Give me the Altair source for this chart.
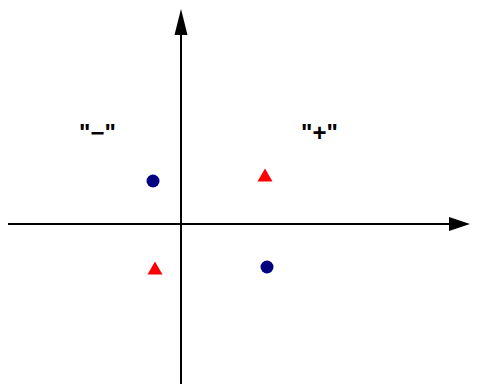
import altair as alt
import pandas as pd

# point data (axis origin at 0,0)
pt_x = [-0.28, 0.84, -0.26, 0.86]
pt_y = [0.43, 0.49, -0.44, -0.43]
pt_kind = ["circle", "triangle", "triangle", "circle"]

# quadrant labels
lab_text = ['"−"', '"+"']
lab_x = [-0.835, 1.385]
lab_y = [0.83, 0.83]

# axis extents
x_min, x_max = -1.73, 2.89
y_min, y_max = -1.60, 2.16
h_line_end = 2.69
v_line_end = 1.89
h_arrow_pos = 2.785
v_arrow_pos = 2.02

xs = alt.Scale(domain=[x_min, x_max], nice=False, zero=False)
ys = alt.Scale(domain=[y_min, y_max], nice=False, zero=False)

pts = pd.DataFrame({"x": pt_x, "y": pt_y, "kind": pt_kind})
labs = pd.DataFrame({"x": lab_x, "y": lab_y, "t": lab_text})

hline = alt.Chart(pd.DataFrame({"x": [x_min], "x2": [h_line_end], "y": [0]})).mark_rule(
    color="black", strokeWidth=2
).encode(x=alt.X("x:Q", scale=xs, axis=None), x2="x2", y=alt.Y("y:Q", scale=ys, axis=None))

vline = alt.Chart(pd.DataFrame({"x": [0], "y": [y_min], "y2": [v_line_end]})).mark_rule(
    color="black", strokeWidth=2
).encode(x=alt.X("x:Q", scale=xs, axis=None), y=alt.Y("y:Q", scale=ys, axis=None), y2="y2")

harrow = alt.Chart(pd.DataFrame({"x": [h_arrow_pos], "y": [0]})).mark_point(
    shape="M -1 -0.667 L 1 0 L -1 0.667 Z", filled=True, color="black", opacity=1, size=441, strokeWidth=0
).encode(x=alt.X("x:Q", scale=xs, axis=None), y=alt.Y("y:Q", scale=ys, axis=None))

varrow = alt.Chart(pd.DataFrame({"x": [0], "y": [v_arrow_pos]})).mark_point(
    shape="M -0.5 1 L 0 -1 L 0.5 1 Z", filled=True, color="black", opacity=1, size=676, strokeWidth=0
).encode(x=alt.X("x:Q", scale=xs, axis=None), y=alt.Y("y:Q", scale=ys, axis=None))

circles = alt.Chart(pts).transform_filter(alt.datum.kind == "circle").mark_point(
    shape="circle", filled=True, color="#000080", opacity=1, size=169, strokeWidth=0
).encode(x=alt.X("x:Q", scale=xs, axis=None), y=alt.Y("y:Q", scale=ys, axis=None))

tris = alt.Chart(pts).transform_filter(alt.datum.kind == "triangle").mark_point(
    shape="triangle-up", filled=True, color="#ff0000", opacity=1, size=225, strokeWidth=0
).encode(x=alt.X("x:Q", scale=xs, axis=None), y=alt.Y("y:Q", scale=ys, axis=None))

labels = alt.Chart(labs).mark_text(
    font="Liberation Sans", fontSize=24, fontWeight="bold", color="black", baseline="alphabetic", align="center"
).encode(x=alt.X("x:Q", scale=xs, axis=None), y=alt.Y("y:Q", scale=ys, axis=None), text="t:N")

chart = alt.layer(hline, vline, harrow, varrow, circles, tris, labels).properties(
    width=462, height=376, padding=0, autosize=alt.AutoSizeParams(type="none")
).configure_view(stroke=None)

chart.save("out.html", embed_options={"renderer": "svg", "actions": False})
